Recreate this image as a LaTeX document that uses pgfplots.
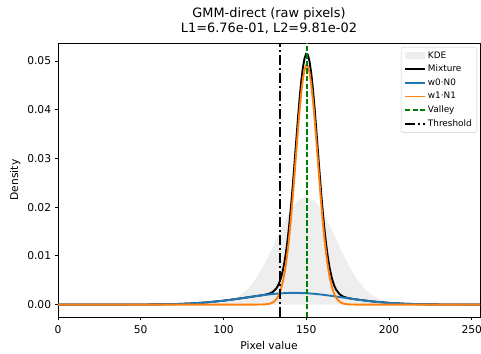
\documentclass[border=0pt]{standalone}
\usepackage{fontspec}
\setmainfont{DejaVu Sans}
\usepackage{pgfplots}
\pgfplotsset{compat=1.18}
\definecolor{mplblue}{RGB}{31,119,180}
\definecolor{mplorange}{RGB}{255,127,14}
\definecolor{mplgreen}{RGB}{0,128,0}
\definecolor{kdegray}{RGB}{238,238,238}
\pgfplotsset{
  linelegend/.style={legend image code/.code={\draw[##1] (0bp,0bp) -- (20bp,0bp);}},
  kdelegend/.style={legend image code/.code={\fill[##1] (0bp,-3.5bp) rectangle (20bp,3.5bp);}},
}
\begin{document}
\begin{tikzpicture}
\begin{axis}[
  scale only axis, width=422bp, height=274bp,
  xmin=0, xmax=255, ymin=-0.00255, ymax=0.0537,
  xtick={0,50,100,150,200,250},
  ytick={0,0.01,0.02,0.03,0.04,0.05},
  scaled y ticks=false,
  yticklabel style={/pgf/number format/fixed, /pgf/number format/fixed zerofill, /pgf/number format/precision=2},
  xticklabel style={yshift=-1.5bp},
  /pgf/number format/assume math mode=true,
  tick label style={font=\fontsize{10.7bp}{12bp}\selectfont, black},
  label style={font=\fontsize{10.7bp}{12bp}\selectfont},
  xlabel={Pixel value}, ylabel={Density},
  xlabel style={yshift=-1bp},
  title={GMM-direct (raw pixels)\\L1=6.76e-01, L2=9.81e-02},
  title style={font=\fontsize{12.9bp}{14.5bp}\selectfont, align=center},
  tick align=outside, xtick pos=bottom, ytick pos=left,
  major tick length=3.4bp,
  axis line style={line width=0.77bp},
  every tick/.style={black, line width=0.77bp},
  linelegend,
  legend cell align=left,
  legend style={at={(1,1)}, anchor=north east, xshift=-3bp, yshift=-4bp,
    draw=black!20, rounded corners=2bp, fill=white,
    font=\fontsize{8.9bp}{10bp}\selectfont, row sep=1.5bp,
    inner xsep=3bp, inner ysep=2.5bp},
]
\addplot[fill=kdegray, draw=none, kdelegend] coordinates {
(0,0) (60,0) (70,0.0000001) (80,0.000012) (90,0.000086) (100,0.000469) (105,0.000975) (110,0.00188) (115,0.003353) (120,0.005537) (125,0.008463) (130,0.011975) (135,0.015687) (140,0.019025) (145,0.021359) (150,0.0222) (155,0.021359) (160,0.019025) (165,0.015687) (170,0.011975) (175,0.008463) (180,0.005537) (185,0.003353) (190,0.00188) (195,0.000975) (200,0.000469) (210,0.000086) (220,0.000012) (230,0.0000001) (255,0)
} \closedcycle;
\addlegendentry{KDE}
\addplot[black, line width=1.9bp] coordinates {
(0,0) (20,0.0000003) (40,0.0000044) (50,0.000014) (60,0.00004) (70,0.000101) (80,0.000227) (90,0.000452) (100,0.000799) (110,0.001256) (120,0.001754) (125,0.002016) (128,0.002281) (130,0.002643) (132,0.00336) (133,0.003945) (134,0.004747) (135,0.005824) (136,0.007236) (137,0.009045) (138,0.0113) (139,0.014037) (140,0.017267) (141,0.020954) (142,0.025029) (143,0.02938) (144,0.033849) (145,0.038244) (146,0.042327) (147,0.045897) (148,0.048715) (149,0.050619) (150,0.051481) (151,0.051241) (152,0.049907) (153,0.047582) (154,0.044393) (155,0.040563) (156,0.036281) (157,0.031796) (158,0.02732) (159,0.023021) (160,0.019051) (161,0.01551) (162,0.012447) (163,0.009877) (164,0.007776) (165,0.006105) (166,0.004807) (167,0.003825) (168,0.003094) (170,0.002175) (172,0.001699) (175,0.001357) (178,0.001167) (180,0.001063) (190,0.000645) (200,0.000348) (210,0.000166) (220,0.0000707) (230,0.0000267) (240,0.0000089) (255,0.0000014)
};
\addlegendentry{Mixture}
\addplot[mplblue, line width=1.9bp, smooth] coordinates {
(0,0) (20,0.0000003) (40,0.0000044) (50,0.000014) (60,0.00004) (70,0.000101) (80,0.000227) (90,0.000452) (100,0.000799) (110,0.001256) (120,0.001752) (125,0.00198) (130,0.002171) (135,0.002311) (140,0.002387) (143,0.0024) (146,0.002387) (150,0.002331) (155,0.002203) (160,0.002021) (165,0.0018) (170,0.001556) (175,0.001306) (180,0.001063) (190,0.000645) (200,0.000348) (210,0.000166) (220,0.0000707) (230,0.0000267) (240,0.0000089) (255,0.0000014)
};
\addlegendentry{w0·N0}
\addplot[mplorange, line width=1.9bp] coordinates {
(0,0) (100,0) (120,0.0000016) (125,0.0000359) (128,0.000181) (130,0.000472) (132,0.001127) (133,0.001683) (134,0.00246) (135,0.003513) (136,0.004905) (137,0.006696) (138,0.008935) (139,0.01166) (140,0.01488) (141,0.01856) (142,0.02263) (143,0.02698) (144,0.03145) (145,0.03585) (146,0.03994) (147,0.04352) (148,0.04635) (149,0.04827) (150,0.04915) (151,0.04893) (152,0.04762) (153,0.04532) (154,0.04216) (155,0.03836) (156,0.03411) (157,0.02966) (158,0.02522) (159,0.02096) (160,0.01703) (161,0.01353) (162,0.01051) (163,0.007985) (164,0.005929) (165,0.004305) (166,0.003055) (167,0.002121) (168,0.001439) (170,0.000619) (172,0.000243) (175,0.0000507) (178,0.0000086) (182,0) (255,0)
};
\addlegendentry{w1·N1}
\addplot[mplgreen, line width=1.45bp, dash pattern=on 5.3bp off 2.3bp] coordinates {(150.5,-0.00255) (150.5,0.0537)};
\addlegendentry{Valley}
\addplot[black, line width=1.9bp, dash pattern=on 10bp off 3bp on 2bp off 3bp] coordinates {(134.4,-0.00255) (134.4,0.0537)};
\addlegendentry{Threshold}
\end{axis}
\pgfresetboundingbox
\useasboundingbox ([xshift=-58bp,yshift=-37bp]current axis.south west) rectangle ([xshift=1bp,yshift=43bp]current axis.north east);
\end{tikzpicture}
\end{document}
